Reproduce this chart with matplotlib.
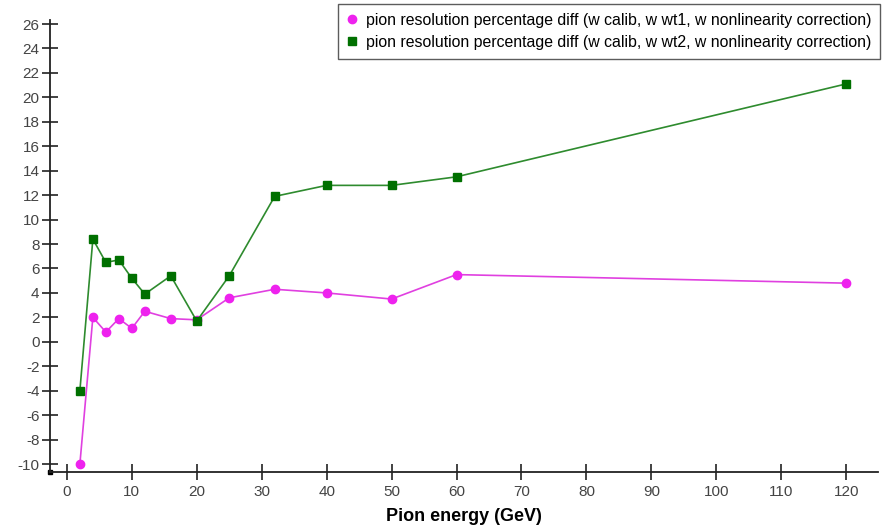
import matplotlib.pyplot as plt

plt.rcParams['font.family'] = ['Liberation Sans', 'DejaVu Sans']
plt.rcParams['axes.unicode_minus'] = False

energy = [2, 4, 6, 8, 10, 12, 16, 20, 25, 32, 40, 50, 60, 120]
diff_wt1 = [-10.0, 2.0, 0.8, 1.9, 1.1, 2.5, 1.9, 1.8, 3.6, 4.3, 4.0, 3.5, 5.5, 4.8]
diff_wt2 = [-4.0, 8.4, 6.5, 6.7, 5.2, 3.9, 5.4, 1.7, 5.4, 11.9, 12.8, 12.8, 13.5, 21.1]

label_wt1 = "pion resolution percentage diff (w calib, w wt1, w nonlinearity correction)"
label_wt2 = "pion resolution percentage diff (w calib, w wt2, w nonlinearity correction)"

fig = plt.figure(figsize=(8.87, 5.31), dpi=100)
ax = fig.add_axes([50 / 887, 1 - 472 / 531, 828 / 887, 452 / 531])

ax.plot(energy, diff_wt1, color='#e040e0', lw=1.2, marker='o', ms=6,
        mfc='#ee22ee', mec='#ee22ee', label=label_wt1)
ax.plot(energy, diff_wt2, color='#2e8b2e', lw=1.2, marker='s', ms=6,
        mfc='#007000', mec='#007000', label=label_wt2)

ax.set_xlim(-2.6, 124.9)
ax.set_ylim(-10.65, 26.33)
ax.set_xticks(range(0, 121, 10))
ax.set_yticks(range(-10, 27, 2))

for side in ['top', 'right']:
    ax.spines[side].set_visible(False)
for side in ['left', 'bottom']:
    ax.spines[side].set_color('#222222')
    ax.spines[side].set_linewidth(1.3)

ax.tick_params(direction='inout', length=11, width=1.2, color='#222222',
               labelsize=11, labelcolor='#444444')
ax.tick_params(axis='x', pad=4)
ax.tick_params(axis='y', pad=2)

ax.set_xlabel("Pion energy (GeV)", fontsize=13, fontweight='bold', labelpad=6)

# small corner mark where the axes meet
ax.plot([ax.get_xlim()[0]], [ax.get_ylim()[0]], marker='s', ms=3, color='black',
        clip_on=False)

leg = ax.legend(loc='upper right', bbox_to_anchor=(880 / 887, 1 - 4 / 531),
                bbox_transform=fig.transFigure, fontsize=11.4, frameon=True,
                fancybox=False, edgecolor='#333333', handlelength=0.7,
                handletextpad=0.5, borderpad=0.55, labelspacing=0.45,
                borderaxespad=0)
leg.get_frame().set_linewidth(1.0)
for line in leg.get_lines():
    line.set_linestyle('none')

fig.savefig('out.png', dpi=100)
